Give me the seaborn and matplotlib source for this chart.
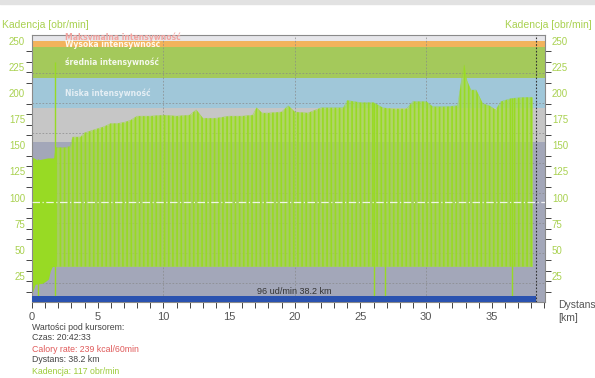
import numpy as np
import matplotlib
matplotlib.use('Agg')
import matplotlib.pyplot as plt
import seaborn as sns
from matplotlib.ticker import MultipleLocator
from matplotlib.patches import Rectangle

# cadence envelope (km, obr/min)
km = [0.0, 0.4, 0.8, 1.2, 1.65, 1.75, 2.5, 2.9, 3.1, 3.7, 4.0, 4.5, 5.0, 5.5, 6.0,
      6.5, 7.0, 7.5, 8.0, 9.0, 10.0, 11.0, 12.0, 12.5, 13.0, 14.0, 15.0, 16.0, 16.8,
      17.1, 17.5, 18.0, 19.0, 19.5, 20.0, 21.0, 22.0, 23.0, 23.7, 24.0, 25.0, 26.0,
      26.7, 27.5, 28.5, 29.0, 30.0, 30.5, 31.5, 32.4, 32.7, 32.9, 33.1, 33.4, 33.8,
      34.3, 34.8, 35.3, 35.7, 36.5, 37.5, 38.1]
cadence = [139, 136, 137, 138, 138, 148, 148, 149, 158, 158, 162, 164, 166, 168, 171,
           171, 172, 174, 178, 178, 179, 178, 179, 184, 176, 176, 178, 178, 179,
           186, 181, 181, 182, 188, 182, 181, 186, 186, 186, 193, 191, 191,
           186, 185, 185, 192, 192, 187, 187, 188, 213, 227, 212, 203, 203,
           190, 188, 184, 192, 195, 196, 196]
floor = 34

# lower edge of the first (unbroken) stretch
start_km = [0.0, 0.25, 0.8, 1.05, 1.25, 1.4, 1.55]
start_lo = [8, 17, 18, 20, 22, 30, 34]

# single samples that drop to zero
drop_km = [0.45, 1.75, 26.05, 26.85, 36.55]
drop_hi = [137, 230, 191, 186, 195]

# intensity zones (on cadence scale)
zone_lo = [0.5, 153, 186, 215, 244.5, 249.5]
zone_hi = [153, 186, 215, 244.5, 249.5, 256.2]
zone_col = ['#a3a7b9', '#c6c6c6', '#a0c7d9', '#a4c95b', '#f2b35c', '#e6e6ea']

avg_hr = 96
cursor_km = 38.35

sns.set_style('white')
plt.rcParams['font.family'] = ['Liberation Sans', 'DejaVu Sans']
plt.rcParams['hatch.linewidth'] = 1.2

fig = plt.figure(figsize=(5.95, 3.78), dpi=100)
fig.patches.append(Rectangle((0, 1 - 4 / 378), 1, 4 / 378, transform=fig.transFigure,
                             color='#e2e2e2', zorder=0))
ax = fig.add_axes([32 / 595, 1 - 301.5 / 378, 513 / 595, 267 / 378])

for lo, hi, c in zip(zone_lo, zone_hi, zone_col):
    ax.axhspan(lo, hi, color=c, lw=0, zorder=0)

# grid
for g in np.linspace(18.2, 219.4, 8):
    ax.axhline(g, color='#888888', lw=0.6, ls=(0, (2, 2)), zorder=1, alpha=0.8)
for g in [10, 20, 30]:
    ax.axvline(g, color='#888888', lw=0.6, ls=(0, (2, 2)), zorder=1, alpha=0.8)

kma = np.array(km)
cad = np.array(cadence)
green = '#98da24'
ax.fill_between(kma, floor, cad, where=kma <= 1.75, color=green, lw=0, zorder=2)
ax.fill_between(start_km, start_lo, floor, color=green, lw=0, zorder=2)
rest = kma >= 1.75
ax.fill_between(kma, floor, cad, where=rest, color='#a8dc40', alpha=0.7, lw=0, zorder=2)
ax.fill_between(kma, floor, cad, where=rest, facecolor='none', edgecolor=green,
                hatch='||||', lw=0, zorder=2)
sns.lineplot(x=km[5:], y=cadence[5:], color=green, lw=0.4, alpha=0.6, ax=ax, zorder=3)
ax.vlines(drop_km, 0, drop_hi, color=green, lw=1.0, zorder=3)

ax.axhline(avg_hr, color='white', lw=0.9, ls=(0, (6, 2, 1, 2)), alpha=0.85, zorder=4)
ax.fill_between([0, cursor_km], 0.5, 5.5, color='#2a52b0', lw=0, zorder=5)
ax.axvline(cursor_km, color='#333333', lw=0.8, ls=(0, (1.5, 1.5)), zorder=6)

ax.text(20, 10.5, '96 ud/min 38.2 km', ha='center', va='center', fontsize=6.5,
        color='#333333', zorder=6)

band_font = dict(family='DejaVu Sans', fontweight='bold', fontsize=5.5, va='center', zorder=6)
ax.text(2.5, 253.5, 'Maksymalna intensywność', color='#f2a4a0', **band_font)
ax.text(2.5, 247, 'Wysoka intensywność', color='#fff8ec', **band_font)
ax.text(2.5, 230, 'średnia intensywność', color='#f4f8ea', **band_font)
ax.text(2.5, 200, 'Niska intensywność', color='#e4eef4', **band_font)

ax.set_xlim(0, 39.05)
ax.set_ylim(0.5, 256.2)
ax.set_xlabel('')
ax.set_ylabel('')
ax.xaxis.set_major_locator(MultipleLocator(5))
ax.xaxis.set_minor_locator(MultipleLocator(1))
ax.yaxis.set_minor_locator(MultipleLocator(10))
ax.set_yticks(range(25, 251, 25))
ax.tick_params(axis='x', which='both', direction='out', length=4, width=0.7,
               color='#444444', labelcolor='#555555', labelsize=8, bottom=True)
ax.tick_params(axis='y', which='major', length=0, labelsize=7, labelcolor='#a9d150',
               left=True, right=True, labelleft=True, labelright=True, pad=5)
ax.tick_params(axis='y', which='minor', direction='out', length=4, width=0.7,
               color='#444444', left=True, right=True)
for s in ax.spines.values():
    s.set_color('#8a8a8a')
    s.set_linewidth(0.8)
    s.set_visible(True)

fig.text(2 / 595, 1 - 25 / 378, 'Kadencja [obr/min]', color='#a9d150', fontsize=7.5,
         va='center', ha='left')
fig.text(592 / 595, 1 - 25 / 378, 'Kadencja [obr/min]', color='#a9d150', fontsize=7.5,
         va='center', ha='right')
fig.text(558 / 595, 1 - 305 / 378, 'Dystans', color='#555555', fontsize=7.5, va='center')
fig.text(558 / 595, 1 - 318 / 378, '[km]', color='#555555', fontsize=7.5, va='center')

info = [('Wartości pod kursorem:', '#444444'), ('Czas: 20:42:33', '#444444'),
        ('Calory rate: 239 kcal/60min', '#e05a5a'), ('Dystans: 38.2 km', '#444444'),
        ('Kadencja: 117 obr/min', '#9ccc3a')]
for i, (t, c) in enumerate(info):
    fig.text(32 / 595, 1 - (327 + 11 * i) / 378, t, color=c, fontsize=6.3, va='center')

fig.savefig('out.png', dpi=100)
